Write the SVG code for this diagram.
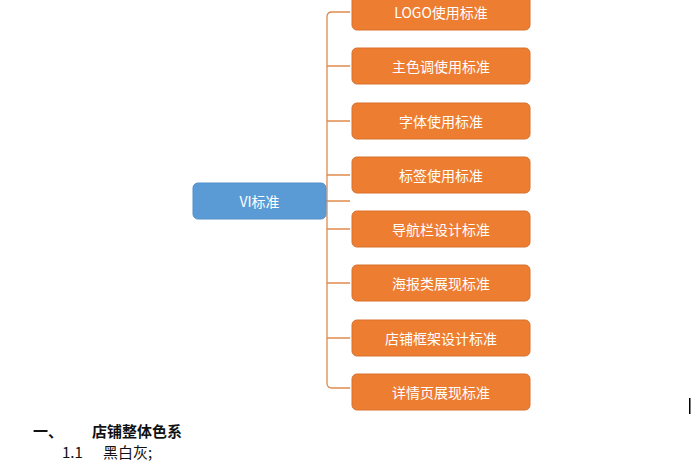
<svg xmlns="http://www.w3.org/2000/svg" width="700" height="470" viewBox="0 0 700 470">
<style>
.o{fill:#ed7d31;stroke:#d9712b;stroke-width:1}
.b{fill:#5b9bd5;stroke:#5090cb;stroke-width:1}
.t{font-family:"Noto Sans CJK SC",sans-serif;font-size:14px;fill:#fff;text-anchor:middle;dominant-baseline:central}
.c{fill:none;stroke:#e08a4c;stroke-width:1.3}
.d{font-family:"Noto Sans CJK SC",sans-serif;font-size:15px;fill:#111}
</style>
<rect width="700" height="470" fill="#fff"/>
<g id="connectors">
<path class="c" d="M350 12 H332 Q327 12 327 17 V383 Q327 388 332 388 H350"/>
<path class="c" d="M327 66 H350 M327 121 H350 M327 175 H350 M327 229 H350 M327 283 H350 M327 338 H350 M326 201 H350"/>
</g>
<g id="vi"><rect class="b" x="193" y="183" width="133" height="36" rx="5"/><text class="t" x="259.5" y="201">VI标准</text></g>
<g id="n1"><rect class="o" x="352" y="-6" width="178" height="36" rx="5"/><text class="t" x="441" y="12">LOGO使用标准</text></g>
<g id="n2"><rect class="o" x="352" y="48" width="178" height="36" rx="5"/><text class="t" x="441" y="66">主色调使用标准</text></g>
<g id="n3"><rect class="o" x="352" y="103" width="178" height="36" rx="5"/><text class="t" x="441" y="121">字体使用标准</text></g>
<g id="n4"><rect class="o" x="352" y="157" width="178" height="36" rx="5"/><text class="t" x="441" y="175">标签使用标准</text></g>
<g id="n5"><rect class="o" x="352" y="211" width="178" height="36" rx="5"/><text class="t" x="441" y="229">导航栏设计标准</text></g>
<g id="n6"><rect class="o" x="352" y="265" width="178" height="36" rx="5"/><text class="t" x="441" y="283">海报类展现标准</text></g>
<g id="n7"><rect class="o" x="352" y="320" width="178" height="36" rx="5"/><text class="t" x="441" y="338">店铺框架设计标准</text></g>
<g id="n8"><rect class="o" x="352" y="374" width="178" height="36" rx="5"/><text class="t" x="441" y="392">详情页展现标准</text></g>
<rect x="689" y="398" width="1.5" height="16" fill="#000"/>
<text class="d" x="33" y="437" font-weight="bold">一、</text>
<text class="d" x="92" y="437" font-weight="bold">店铺整体色系</text>
<text class="d" x="62" y="458" font-size="14">1.1</text>
<text class="d" x="103" y="458" font-size="14">黑白灰;</text>
</svg>
